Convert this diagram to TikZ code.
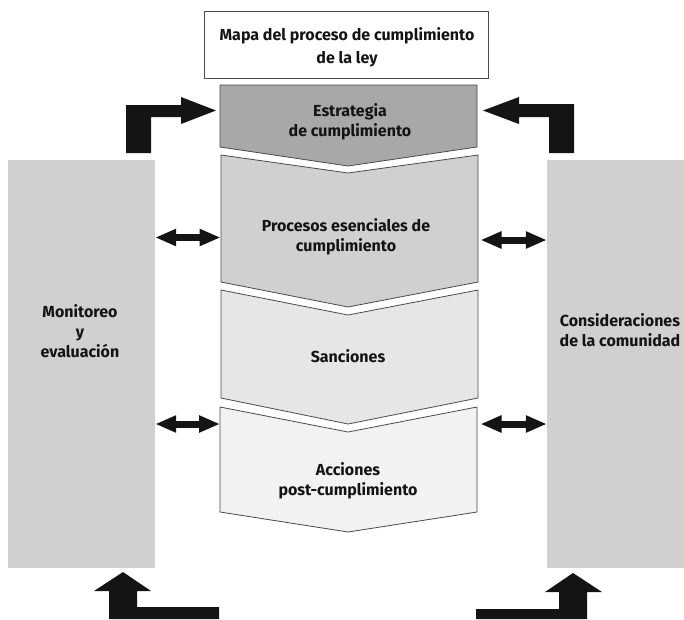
\documentclass[tikz,border=0pt]{standalone}
\usepackage{fontspec}
\setmainfont{Fira Sans}
\usetikzlibrary{arrows.meta}

\definecolor{ink}{HTML}{141414}
\definecolor{edge}{HTML}{4A4A4A}
\definecolor{panelgray}{HTML}{D0D0D0}
\definecolor{stepA}{HTML}{A8A8A8}
\definecolor{stepB}{HTML}{D0D0D0}
\definecolor{stepC}{HTML}{E6E6E6}
\definecolor{stepD}{HTML}{F2F2F2}

\tikzset{
  lbl/.style={font=\bfseries\fontsize{16}{20}\selectfont, text=ink, align=center, inner sep=0pt},
  chev/.style={draw=edge, line width=0.8pt, line join=miter},
  panel/.style={fill=panelgray, draw=none, inner sep=0pt},
  blockarrow/.style={fill=ink, draw=none},
  dbl/.style={draw=ink, line width=7pt,
    {Triangle[length=21pt,width=16pt]}-{Triangle[length=21pt,width=16pt]}},
}

\begin{document}
\begin{tikzpicture}[x=1pt,y=-1pt]
\useasboundingbox (0,0) rectangle (684,619);

% title box
\node[draw=edge, line width=1pt, minimum width=284pt, minimum height=67pt, inner sep=0pt]
  (title) at (346,44.5) {};
\node[lbl, font=\bfseries\fontsize{16}{23}\selectfont] (titletext) at (347,47.5)
  {Mapa del proceso de cumplimiento\\de la ley};

% side panels
\node[panel, minimum width=147pt, minimum height=408pt] (mon) at (81.5,364) {};
\node[panel, minimum width=137pt, minimum height=408pt] (com) at (615.5,364) {};
\node[lbl] (montext) at (80,331) {Monitoreo\\y\\evaluación};
\node[lbl] (comtext) at (620,330) {Consideraciones\\de la comunidad};

% process chevrons
\draw[chev, fill=stepA] (220,85) -- (477,85) -- (477,147) -- (348,166) -- (220,147) -- cycle;
\draw[chev, fill=stepB] (221,155) -- (348,173) -- (478,155) -- (478,282) -- (348,307) -- (221,282) -- cycle;
\draw[chev, fill=stepC] (221,290) -- (348,315) -- (478,290) -- (478,398) -- (348,424) -- (221,398) -- cycle;
\draw[chev, fill=stepD] (220,407) -- (348,432) -- (477,407) -- (477,512) -- (348,532) -- (220,512) -- cycle;

\node[lbl] (estr) at (350,122) {Estrategia\\de cumplimiento};
\node[lbl] (proc) at (346,237) {Procesos esenciales de\\cumplimiento};
\node[lbl] (sanc) at (348,356) {Sanciones};
\node[lbl] (acc) at (348,481) {Acciones\\post-cumplimiento};

% attachment points on the chevron sides
\coordinate (procL) at (220.5,237.5);
\coordinate (procR) at (480.5,240);
\coordinate (accL) at (220,424);
\coordinate (accR) at (480.5,424);

% two-way links between the panels and the process
\draw[dbl] (mon.east |- procL) -- (procL);
\draw[dbl] (procR) -- (com.west |- procR);
\draw[dbl] (mon.east |- accL) -- (accL);
\draw[dbl] (accR) -- (com.west |- accR);

% feedback block arrows
\fill[blockarrow] (126,153) -- (126,105) -- (181,105) -- (181,97) -- (216,110.5)
  -- (181,124) -- (181,117) -- (151,117) -- (151,153) -- cycle;
\fill[blockarrow] (574,153) -- (574,104) -- (519,104) -- (519,97) -- (483,110.5)
  -- (519,124) -- (519,117) -- (549,117) -- (549,153) -- cycle;
\fill[blockarrow] (123,572) -- (151,591) -- (137,591) -- (137,607) -- (219,607)
  -- (219,619) -- (109,619) -- (109,591) -- (94,591) -- cycle;
\fill[blockarrow] (573,573) -- (602,592) -- (587,592) -- (587,619) -- (476,619)
  -- (476,609) -- (559,609) -- (559,592) -- (545,592) -- cycle;
\end{tikzpicture}
\end{document}
